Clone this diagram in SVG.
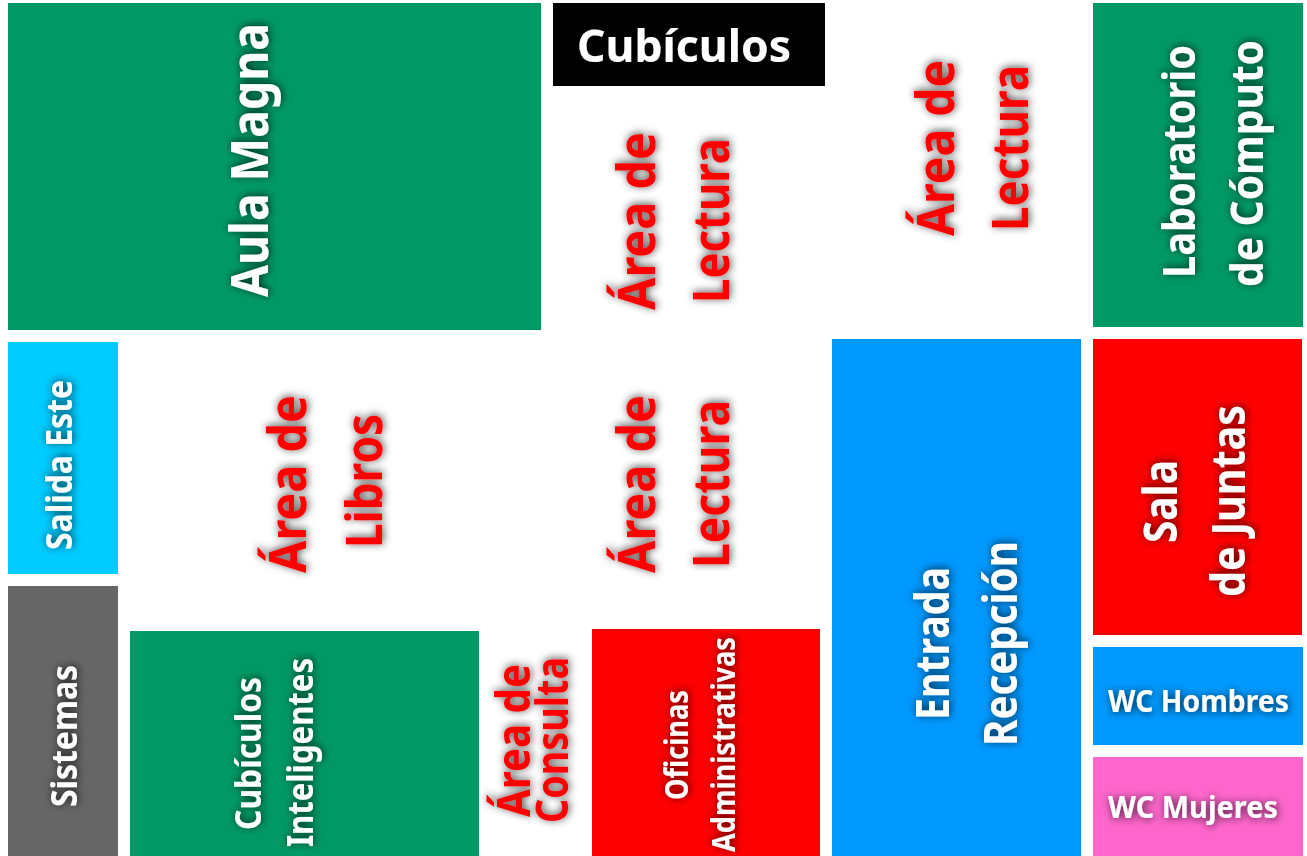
<svg xmlns="http://www.w3.org/2000/svg" width="1307" height="856" viewBox="0 0 1307 856">
<defs>
<filter id="glow" x="-30%" y="-40%" width="160%" height="180%"><feDropShadow dx="1" dy="1" stdDeviation="4" flood-color="#000" flood-opacity="0.75"/></filter>
</defs>
<style>
text{font-family:"Noto Sans","Open Sans","Liberation Sans",sans-serif;font-weight:700;filter:url(#glow)}
.w{fill:#fff}.r{fill:#f00}
.g{fill:#096}.b{fill:#09f}.c{fill:#0cf}.s{fill:#666}.d{fill:#f00}.p{fill:#f6c}.k{fill:#000}
</style>
<rect width="1307" height="856" fill="#fff"/>
<g id="aula-magna"><rect class="g" x="8" y="3" width="533" height="327"/><text class="w" transform="translate(268 297) rotate(-90)" font-size="52" textLength="274" lengthAdjust="spacingAndGlyphs">Aula Magna</text></g>
<g id="cubiculos"><rect class="k" x="553" y="3" width="272" height="83"/><text class="w" x="577" y="62" font-size="45" textLength="214" lengthAdjust="spacingAndGlyphs">Cubículos</text></g>
<g id="lectura-1"><text class="r" transform="translate(655 310) rotate(-90)" font-size="52" textLength="178" lengthAdjust="spacingAndGlyphs">Área de</text><text class="r" transform="translate(729 303) rotate(-90)" font-size="51" textLength="165" lengthAdjust="spacingAndGlyphs">Lectura</text></g>
<g id="lectura-2"><text class="r" transform="translate(954 236) rotate(-90)" font-size="52" textLength="176" lengthAdjust="spacingAndGlyphs">Área de</text><text class="r" transform="translate(1028 231) rotate(-90)" font-size="51" textLength="166" lengthAdjust="spacingAndGlyphs">Lectura</text></g>
<g id="laboratorio"><rect class="g" x="1093" y="3" width="210" height="324"/><text class="w" transform="translate(1195 278) rotate(-90)" font-size="45" textLength="233" lengthAdjust="spacingAndGlyphs">Laboratorio</text><text class="w" transform="translate(1263 287) rotate(-90)" font-size="44" textLength="247" lengthAdjust="spacingAndGlyphs">de Cómputo</text></g>
<g id="salida-este"><rect class="c" x="8" y="342" width="110" height="232"/><text class="w" transform="translate(72 550) rotate(-90)" font-size="36" textLength="170" lengthAdjust="spacingAndGlyphs">Salida Este</text></g>
<g id="libros"><text class="r" transform="translate(306 573) rotate(-90)" font-size="52" textLength="178" lengthAdjust="spacingAndGlyphs">Área de</text><text class="r" transform="translate(382 548) rotate(-90)" font-size="51" textLength="134" lengthAdjust="spacingAndGlyphs">Libros</text></g>
<g id="lectura-3"><text class="r" transform="translate(655 573) rotate(-90)" font-size="52" textLength="178" lengthAdjust="spacingAndGlyphs">Área de</text><text class="r" transform="translate(729 568) rotate(-90)" font-size="51" textLength="168" lengthAdjust="spacingAndGlyphs">Lectura</text></g>
<g id="entrada"><rect class="b" x="832" y="339" width="249" height="517"/><text class="w" transform="translate(949 720) rotate(-90)" font-size="46" textLength="153" lengthAdjust="spacingAndGlyphs">Entrada</text><text class="w" transform="translate(1017 746) rotate(-90)" font-size="46" textLength="205" lengthAdjust="spacingAndGlyphs">Recepción</text></g>
<g id="sala"><rect class="d" x="1093" y="339" width="209" height="296"/><text class="w" transform="translate(1177 543) rotate(-90)" font-size="46" textLength="83" lengthAdjust="spacingAndGlyphs">Sala</text><text class="w" transform="translate(1245 597) rotate(-90)" font-size="46" textLength="192" lengthAdjust="spacingAndGlyphs">de Juntas</text></g>
<g id="sistemas"><rect class="s" x="8" y="586" width="110" height="270"/><text class="w" transform="translate(77 807) rotate(-90)" font-size="36" textLength="142" lengthAdjust="spacingAndGlyphs">Sistemas</text></g>
<g id="cubiculos-inteligentes"><rect class="g" x="130" y="631" width="349" height="225"/><text class="w" transform="translate(261 830) rotate(-90)" font-size="35" textLength="153" lengthAdjust="spacingAndGlyphs">Cubículos</text><text class="w" transform="translate(313 847) rotate(-90)" font-size="35" textLength="189" lengthAdjust="spacingAndGlyphs">Inteligentes</text></g>
<g id="consulta"><text class="r" transform="translate(530 817) rotate(-90)" font-size="46" textLength="153" lengthAdjust="spacingAndGlyphs">Área de</text><text class="r" transform="translate(568 823) rotate(-90)" font-size="44" textLength="166" lengthAdjust="spacingAndGlyphs">Consulta</text></g>
<g id="oficinas"><rect class="d" x="592" y="629" width="228" height="227"/><text class="w" transform="translate(688 800) rotate(-90)" font-size="32" textLength="110" lengthAdjust="spacingAndGlyphs">Oficinas</text><text class="w" transform="translate(735 852) rotate(-90)" font-size="32" textLength="215" lengthAdjust="spacingAndGlyphs">Administrativas</text></g>
<g id="wc-hombres"><rect class="b" x="1093" y="647" width="210" height="98"/><text class="w" x="1108" y="712" font-size="30" textLength="181" lengthAdjust="spacingAndGlyphs">WC Hombres</text></g>
<g id="wc-mujeres"><rect class="p" x="1093" y="757" width="210" height="99"/><text class="w" x="1108" y="818" font-size="30" textLength="170" lengthAdjust="spacingAndGlyphs">WC Mujeres</text></g>
<g id="connectors"/>
</svg>
